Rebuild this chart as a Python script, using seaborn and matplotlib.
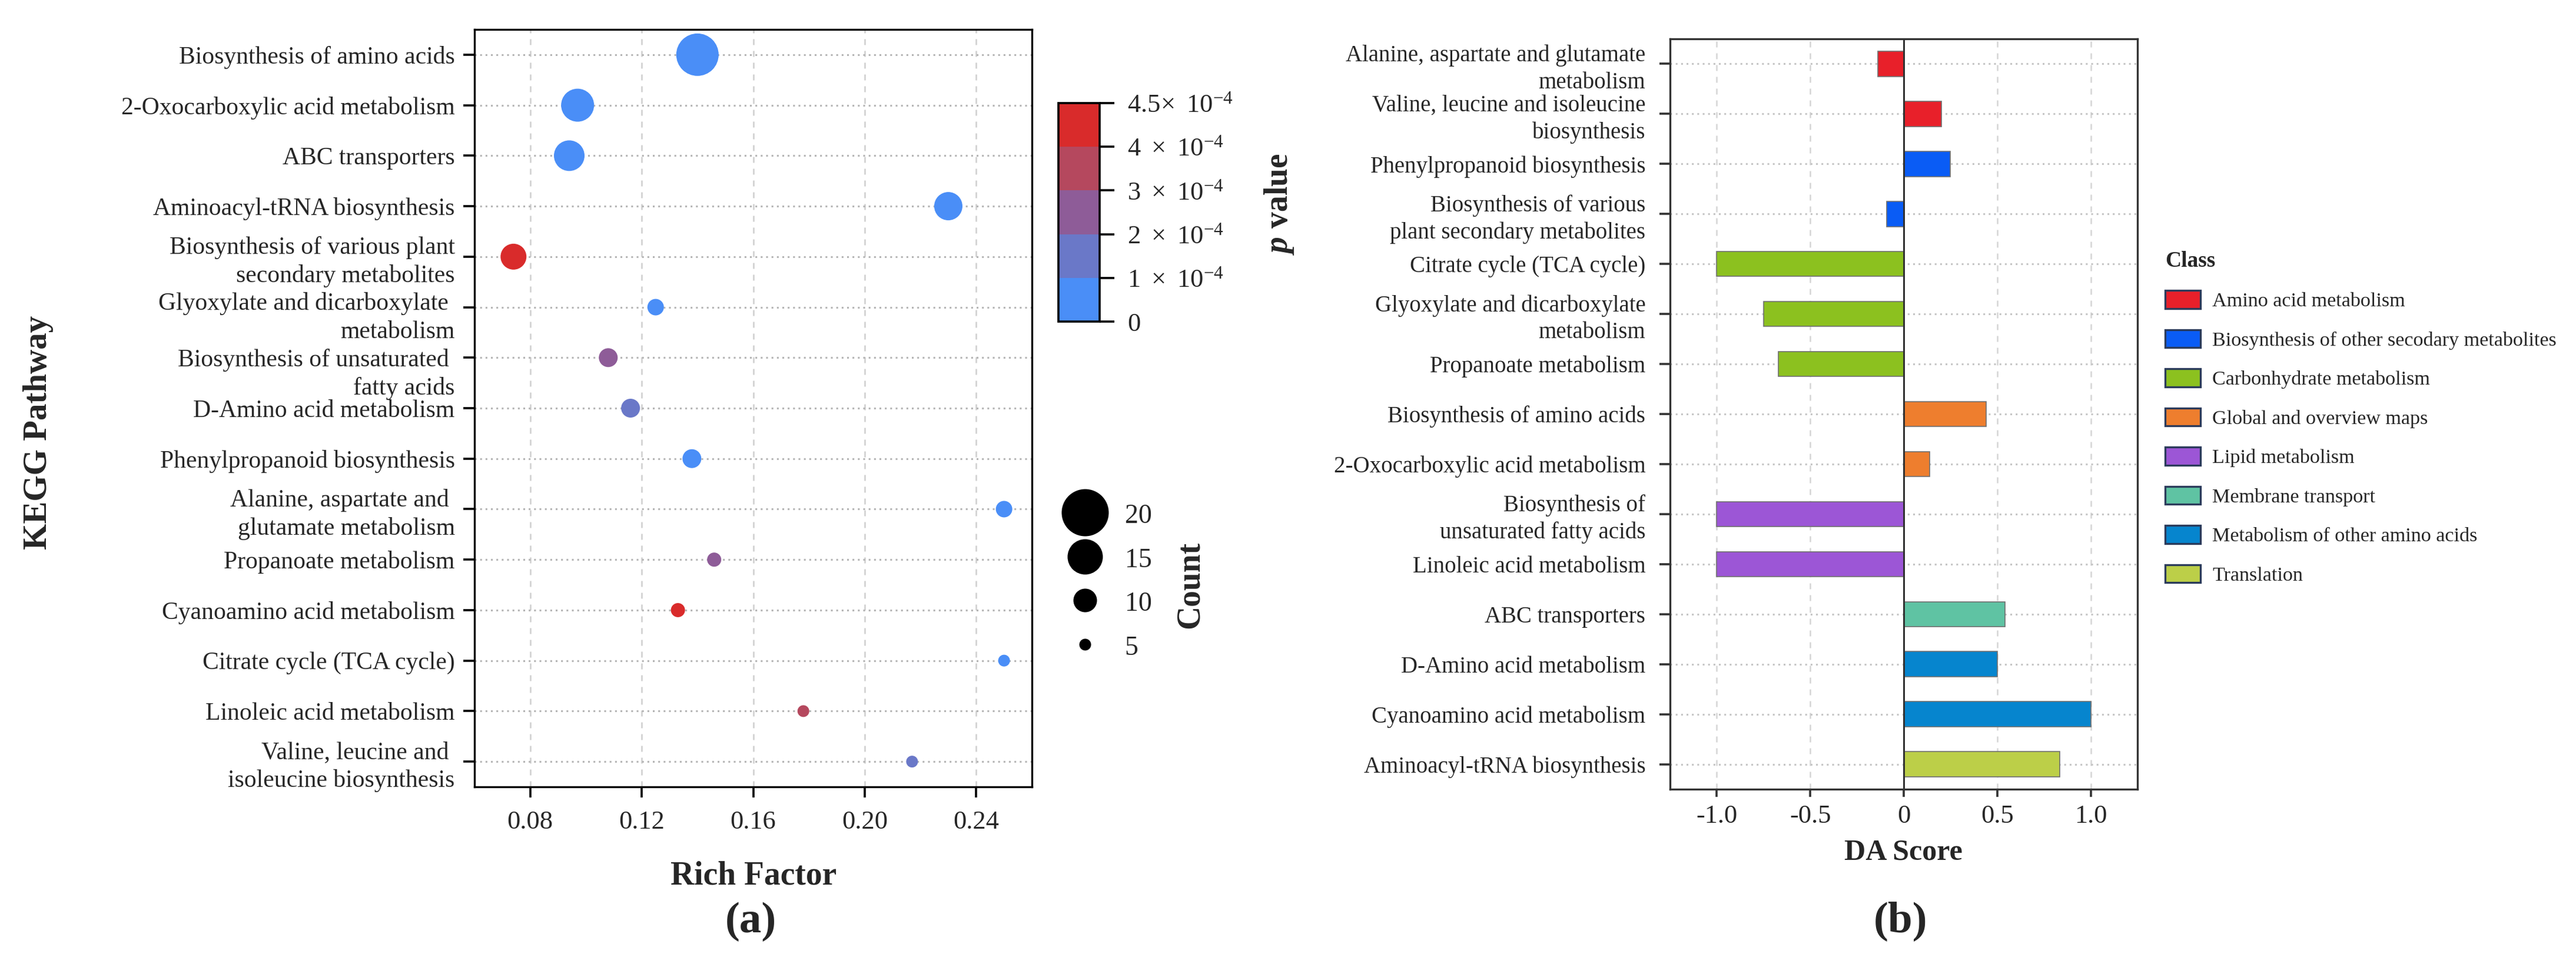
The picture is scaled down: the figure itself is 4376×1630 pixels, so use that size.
import matplotlib
matplotlib.use('Agg')
import pandas as pd
import seaborn as sns
import matplotlib.pyplot as plt
from matplotlib.colors import ListedColormap, BoundaryNorm
from matplotlib.cm import ScalarMappable
from matplotlib.lines import Line2D
from matplotlib.patches import Patch
from matplotlib.transforms import ScaledTranslation

# (a) KEGG enrichment bubbles
kegg_pathway = ['Biosynthesis of amino acids', '2-Oxocarboxylic acid metabolism', 'ABC transporters',
                'Aminoacyl-tRNA biosynthesis', 'Biosynthesis of various plant secondary metabolites',
                'Glyoxylate and dicarboxylate metabolism', 'Biosynthesis of unsaturated fatty acids',
                'D-Amino acid metabolism', 'Phenylpropanoid biosynthesis',
                'Alanine, aspartate and glutamate metabolism', 'Propanoate metabolism',
                'Cyanoamino acid metabolism', 'Citrate cycle (TCA cycle)', 'Linoleic acid metabolism',
                'Valine, leucine and isoleucine biosynthesis']
kegg_labels = ['Biosynthesis of amino acids', '2-Oxocarboxylic acid metabolism', 'ABC transporters',
               'Aminoacyl-tRNA biosynthesis', 'Biosynthesis of various plant\nsecondary metabolites',
               'Glyoxylate and dicarboxylate \nmetabolism', 'Biosynthesis of unsaturated \nfatty acids',
               'D-Amino acid metabolism', 'Phenylpropanoid biosynthesis',
               'Alanine, aspartate and \nglutamate metabolism', 'Propanoate metabolism',
               'Cyanoamino acid metabolism', 'Citrate cycle (TCA cycle)', 'Linoleic acid metabolism',
               'Valine, leucine and \nisoleucine biosynthesis']
rich_factor = [0.140, 0.097, 0.094, 0.230, 0.074, 0.125, 0.108, 0.116, 0.138, 0.250, 0.146, 0.133, 0.250, 0.178, 0.217]
gene_count = [18, 14, 13, 12, 11, 7, 8, 8, 8, 7, 6, 6, 5, 5, 5]
p_value = [2.1e-5, 3.5e-5, 4.0e-5, 5.0e-5, 4.3e-4, 6.0e-5, 2.6e-4, 1.6e-4, 7.0e-5,
           8.0e-5, 2.4e-4, 4.4e-4, 8.5e-5, 3.5e-4, 1.5e-4]
rich_ticks = [0.08, 0.12, 0.16, 0.20, 0.24]

pval_bounds = [0, 1e-4, 2e-4, 3e-4, 4e-4, 4.5e-4]
pval_colors = ['#4a8ef7', '#6a78c8', '#8e5c98', '#b5485e', '#d92b2b']
pval_ticklabels = ['0', r'$1\ \times\ 10^{-4}$', r'$2\ \times\ 10^{-4}$', r'$3\ \times\ 10^{-4}$',
                   r'$4\ \times\ 10^{-4}$', r'$4.5\!\times\ 10^{-4}$']
count_levels = [20, 15, 10, 5]

# (b) DA score bars
da_pathway = ['Alanine, aspartate and glutamate metabolism', 'Valine, leucine and isoleucine biosynthesis',
              'Phenylpropanoid biosynthesis', 'Biosynthesis of various plant secondary metabolites',
              'Citrate cycle (TCA cycle)', 'Glyoxylate and dicarboxylate metabolism', 'Propanoate metabolism',
              'Biosynthesis of amino acids', '2-Oxocarboxylic acid metabolism',
              'Biosynthesis of unsaturated fatty acids', 'Linoleic acid metabolism', 'ABC transporters',
              'D-Amino acid metabolism', 'Cyanoamino acid metabolism', 'Aminoacyl-tRNA biosynthesis']
da_labels = ['Alanine, aspartate and glutamate\nmetabolism', 'Valine, leucine and isoleucine\nbiosynthesis',
             'Phenylpropanoid biosynthesis', 'Biosynthesis of various\nplant secondary metabolites',
             'Citrate cycle (TCA cycle)', 'Glyoxylate and dicarboxylate\nmetabolism', 'Propanoate metabolism',
             'Biosynthesis of amino acids', '2-Oxocarboxylic acid metabolism',
             'Biosynthesis of\nunsaturated fatty acids', 'Linoleic acid metabolism', 'ABC transporters',
             'D-Amino acid metabolism', 'Cyanoamino acid metabolism', 'Aminoacyl-tRNA biosynthesis']
da_score = [-0.14, 0.20, 0.25, -0.09, -1.0, -0.75, -0.67, 0.44, 0.14, -1.0, -1.0, 0.54, 0.50, 1.0, 0.835]
da_class = ['Amino acid metabolism', 'Amino acid metabolism',
            'Biosynthesis of other secodary metabolites', 'Biosynthesis of other secodary metabolites',
            'Carbonhydrate metabolism', 'Carbonhydrate metabolism', 'Carbonhydrate metabolism',
            'Global and overview maps', 'Global and overview maps',
            'Lipid metabolism', 'Lipid metabolism', 'Membrane transport',
            'Metabolism of other amino acids', 'Metabolism of other amino acids', 'Translation']
class_names = ['Amino acid metabolism', 'Biosynthesis of other secodary metabolites', 'Carbonhydrate metabolism',
               'Global and overview maps', 'Lipid metabolism', 'Membrane transport',
               'Metabolism of other amino acids', 'Translation']
class_colors = ['#e8202a', '#0a5cf5', '#8cc11f', '#ee7e2e', '#9c56d6', '#5fc3a3', '#0685ce', '#bccf48']
da_ticks = [-1.0, -0.5, 0, 0.5, 1.0]
da_ticklabels = ['-1.0', '-0.5', '0', '0.5', '1.0']

sns.set_theme(style='ticks')
plt.rcParams['font.family'] = ['Liberation Serif', 'DejaVu Serif']
plt.rcParams['mathtext.fontset'] = 'custom'
plt.rcParams['mathtext.rm'] = 'Liberation Serif'
plt.rcParams['mathtext.it'] = 'Liberation Serif:italic:bold'
plt.rcParams['mathtext.bf'] = 'Liberation Serif:bold'

W, H = 4376, 1630
fig = plt.figure(figsize=(W / 200, H / 200), dpi=200)


def fx(px):
    return px / W


def fy(py):
    return 1 - py / H


# ---------- panel (a) ----------
ax1 = fig.add_axes([fx(806), fy(1336), fx(1753 - 806), (1336 - 50) / H])
df1 = pd.DataFrame({'pathway': kegg_pathway, 'rich': rich_factor, 'count': gene_count, 'p': p_value})
cmap = ListedColormap(pval_colors)
norm = BoundaryNorm(pval_bounds, cmap.N)
k = 1.44  # marker diameter (pt) per gene
sns.scatterplot(data=df1, x='rich', y='pathway', hue='p', hue_norm=norm, palette=cmap,
                size='count', sizes={c: (k * c) ** 2 for c in set(gene_count)},
                linewidth=0, legend=False, ax=ax1, zorder=3)
ax1.set_ylim(len(kegg_pathway) - 0.5, -0.5)
ax1.set_xlim(0.06, 0.26)
ax1.set_xticks(rich_ticks)
ax1.set_xticklabels(['%.2f' % t for t in rich_ticks])
ax1.set_yticks(range(len(kegg_labels)))
ax1.set_yticklabels(kegg_labels, linespacing=1.3)
ax1.set_xlabel('')
ax1.set_ylabel('')
ax1.set_axisbelow(True)
ax1.grid(axis='x', ls=(0, (4, 4)), color='#cfcfcf', lw=0.9)
ax1.grid(axis='y', ls=(0, (1, 2)), color='#b5b5b5', lw=1.1)
for s in ax1.spines.values():
    s.set_visible(True)
    s.set_color('black')
    s.set_linewidth(1.2)
ax1.tick_params(axis='y', length=7, width=1.3, labelsize=15, pad=5, color='black')
ax1.tick_params(axis='x', length=6.5, width=1.3, labelsize=16, pad=8, color='black')
# small vertical shifts of two wrapped labels as in the original
ylabs = ax1.get_yticklabels()
for i, dy in [(5, 9), (6, 19)]:
    ylabs[i].set_transform(ylabs[i].get_transform() + ScaledTranslation(0, -dy / 200, fig.dpi_scale_trans))

fig.text(fx(65), fy(734), 'KEGG Pathway', rotation=90, weight='bold', size=20.5, ha='center', va='center')
fig.text(fx(1280), fy(1488), 'Rich Factor', weight='bold', size=20, ha='center', va='center')
fig.text(fx(1275), fy(1565), '(a)', weight='bold', size=27, ha='center', va='center')

# colour bar for p value
cax = fig.add_axes([fx(1798), fy(546), fx(70), 371 / H])
cb = fig.colorbar(ScalarMappable(norm=norm, cmap=cmap), cax=cax, spacing='uniform', ticks=pval_bounds)
cb.ax.set_yticklabels(pval_ticklabels)
cb.outline.set_linewidth(1.3)
cb.outline.set_edgecolor('black')
cax.tick_params(length=9, width=1.3, labelsize=16, pad=8, color='black')
fig.text(fx(2173), fy(347), r'$p$ value', rotation=90, weight='bold', size=20, ha='center', va='center')

# size legend for Count
size_handles = [Line2D([], [], marker='o', ls='', color='black', markeredgewidth=0, markersize=k * c)
                for c in count_levels]
fig.legend(size_handles, [str(c) for c in count_levels], loc='upper left',
           bbox_to_anchor=(fx(1803), fy(852)), frameon=False, fontsize=16.5,
           handlelength=1.75, handleheight=1.0, handletextpad=0.6, labelspacing=0.62,
           borderpad=0, borderaxespad=0)
fig.text(fx(2022), fy(993), 'Count', rotation=90, weight='bold', size=20, ha='center', va='center')

# ---------- panel (b) ----------
ax2 = fig.add_axes([fx(2837), fy(1340), fx(3631 - 2837), (1340 - 66) / H])
df2 = pd.DataFrame({'pathway': da_pathway, 'score': da_score, 'cls': da_class})
sns.barplot(data=df2, x='score', y='pathway', hue='cls', hue_order=class_names,
            palette=dict(zip(class_names, class_colors)), saturation=1, dodge=False, width=0.5,
            orient='h', errorbar=None, legend=False, edgecolor='#6f6f6f', linewidth=0.6, ax=ax2, zorder=3)
ax2.set_ylim(len(da_pathway) - 0.5, -0.5)
ax2.set_xlim(-1.25, 1.25)
ax2.set_xticks(da_ticks)
ax2.set_xticklabels(da_ticklabels)
ax2.set_yticks(range(len(da_labels)))
ax2.set_yticklabels(da_labels, linespacing=1.3)
ax2.set_xlabel('')
ax2.set_ylabel('')
ax2.set_axisbelow(True)
ax2.grid(axis='x', ls=(0, (4, 4)), color='#d5d5d5', lw=0.9)
ax2.grid(axis='y', ls=(0, (1, 2)), color='#c5c5c5', lw=1.1)
ax2.axvline(0, color='#333333', lw=1.1, zorder=4)
for s in ax2.spines.values():
    s.set_visible(True)
    s.set_color('#333333')
    s.set_linewidth(1.2)
ax2.tick_params(axis='y', length=6.5, width=1.3, labelsize=14, pad=8.5, color='#333333')
ax2.tick_params(axis='x', length=4.5, width=1.3, labelsize=16, pad=5, color='#333333')

fig.text(fx(3233), fy(1448), 'DA Score', weight='bold', size=18, ha='center', va='center')
fig.text(fx(3229), fy(1564), '(b)', weight='bold', size=27, ha='center', va='center')

class_handles = [Patch(facecolor=c, edgecolor='#2b3b5b', linewidth=1.2) for c in class_colors]
fig.legend(class_handles, class_names, title='Class', loc='upper left',
           bbox_to_anchor=(fx(3678), fy(426)), frameon=False, fontsize=12.3,
           title_fontproperties={'weight': 'bold', 'size': 13.5}, alignment='left',
           handlelength=1.75, handleheight=1.0, handletextpad=0.6, labelspacing=0.95,
           borderpad=0, borderaxespad=0)

fig.savefig('out.png', dpi=200, facecolor='white')
